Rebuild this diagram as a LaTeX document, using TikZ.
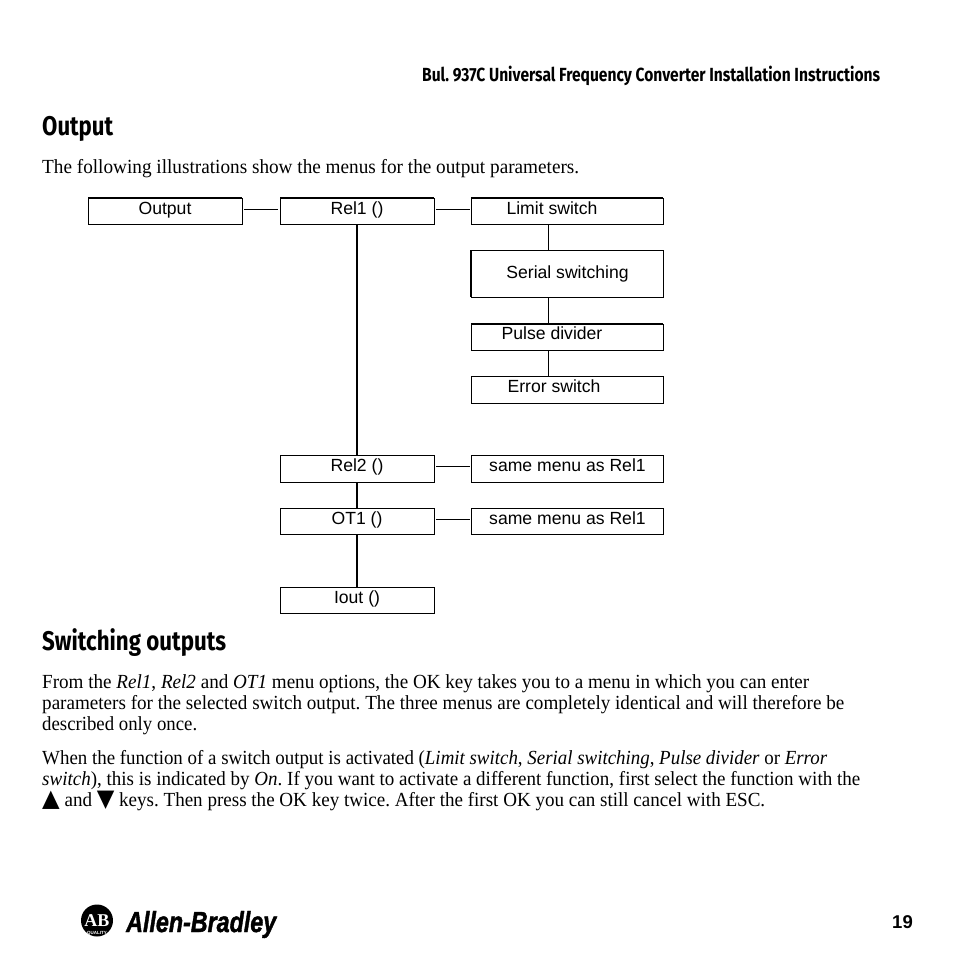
\documentclass[tikz,border=0pt]{standalone}
\usepackage{fontspec}
\usepackage{graphicx}
\setmainfont{Liberation Serif}
\newfontfamily\arialfont{Liberation Sans}
\newfontfamily\brandfont[FakeBold=1.6]{Liberation Sans Bold Italic}
\newfontfamily\headfont{Fira Sans}
\newfontfamily\symfont{DejaVu Sans}
\newcommand{\fitw}[2]{\resizebox{#1pt}{\height}{#2}}
\frenchspacing
\tikzset{
  menubox/.style={draw=black,line width=1pt,fill=none,minimum height=26pt,minimum width=154pt,inner sep=0pt,outer sep=0pt},
  widebox/.style={menubox,minimum width=192pt},
  thinlink/.style={draw=black,line width=1pt},
  thicklink/.style={draw=black,line width=2pt},
  edgeline/.style={draw=black,line width=1.6pt},
  boxtext/.style={anchor=base,inner sep=0pt,font=\arialfont\fontsize{17.6}{19}\selectfont},
  bodyline/.style={anchor=base west,inner sep=0pt,font=\fontsize{20}{21}\selectfont},
  headline/.style={anchor=base west,inner sep=0pt,font=\headfont\bfseries\fontsize{27}{30}\selectfont},
}
\begin{document}
\begin{tikzpicture}[x=1pt,y=-1pt]
\useasboundingbox (0,0) rectangle (954,954);
\fill[white] (0,0) rectangle (954,954);
% running head and headings
\node[anchor=base west,inner sep=0pt,font=\headfont\bfseries\fontsize{19}{20}\selectfont] (runhead) at (422,81) {\fitw{458}{Bul. 937C Universal Frequency Converter Installation Instructions}};
\node[headline] (h1) at (42,135) {\fitw{71}{Output}};
\node[headline] (h2) at (42,650) {\fitw{184}{Switching outputs}};
\node[bodyline] (intro) at (42,173) {\fitw{537}{The following illustrations show the menus for the output parameters.}};
% boxes
\node[menubox] (output) at (165,211) {};
\node[menubox] (rel1) at (357,211) {};
\node[widebox] (limit) at (567,211) {};
\node[widebox,minimum height=47pt] (serial) at (567,273.5) {};
\node[widebox] (pulse) at (567,337) {};
\node[widebox,minimum height=27pt] (error) at (567,390) {};
\node[menubox,minimum height=27pt] (rel2) at (357,469) {};
\node[widebox,minimum height=27pt] (same1) at (567,469) {};
\node[menubox] (ot1) at (357,521.5) {};
\node[widebox] (same2) at (567,521.5) {};
\node[menubox] (iout) at (357,600) {};
% box texts
\node[boxtext] (toutput) at (165,214) {Output};
\node[boxtext] (trel1) at (357,214) {Rel1 ()};
\node[boxtext] (tlimit) at (552,214) {Limit switch};
\node[boxtext] (tserial) at (567.5,278) {Serial switching};
\node[boxtext] (tpulse) at (552,339) {Pulse divider};
\node[boxtext] (terror) at (554,392) {Error switch};
\node[boxtext] (trel2) at (357,471) {Rel2 ()};
\node[boxtext] (tsame1) at (567.5,471) {same menu as Rel1};
\node[boxtext] (tot1) at (357,524) {OT1 ()};
\node[boxtext] (tsame2) at (567.5,524) {same menu as Rel1};
\node[boxtext] (tiout) at (357,603) {Iout ()};
% connectors
\coordinate (rx) at (548,0);
\draw[thinlink] ([xshift=2pt,yshift=2pt]output.east) -- ([xshift=-2pt,yshift=2pt]rel1.west);
\draw[thinlink] ([xshift=2pt,yshift=2pt]rel1.east) -- ([xshift=-1pt,yshift=2pt]limit.west);
\draw[thinlink] ([xshift=2pt,yshift=3pt]rel2.east) -- ([xshift=-1pt,yshift=3pt]same1.west);
\draw[thinlink] ([xshift=2pt,yshift=2.5pt]ot1.east) -- ([xshift=-1pt,yshift=2.5pt]same2.west);
\draw[thinlink] (limit.south -| rx) -- (serial.north -| rx);
\draw[thinlink] (serial.south -| rx) -- (pulse.north -| rx);
\draw[thinlink] (pulse.south -| rx) -- (error.north -| rx);
\draw[thicklink] (rel1) ++(0,13) -- (rel2.north);
\draw[thicklink] (rel2.south) -- (ot1.north);
\draw[thicklink] (ot1.south) -- (iout.north);
% heavier raster edges
\draw[edgeline] (rel2.south west) -- (rel2.south east);
\draw[edgeline] (same1.south west) -- (same1.south east);
\draw[edgeline] (error.south west) -- (error.south east);
\draw[edgeline] (pulse.north west) -- (pulse.north east);
\draw[edgeline] (limit.north west) -- (limit.north east);
\draw[edgeline] (rel1.north west) -- (rel1.north east);
\draw[edgeline] (output.north west) -- (output.north east);
\draw[edgeline] (serial.north west) -- (serial.south west);
% body
\node[bodyline] (l1) at (42,688) {\fitw{767}{From the \textit{Rel1}, \textit{Rel2} and \textit{OT1} menu options, the OK key takes you to a menu in which you can enter}};
\node[bodyline] (l2) at (42,709) {\fitw{802}{parameters for the selected switch output. The three menus are completely identical and will therefore be}};
\node[bodyline] (l3) at (42,730) {\fitw{155}{described only once.}};
\node[bodyline] (l4) at (42,764) {\fitw{785}{When the function of a switch output is activated (\textit{Limit switch}, \textit{Serial switching}, \textit{Pulse divider} or \textit{Error}}};
\node[bodyline] (l5) at (42,785) {\fitw{818}{\textit{switch}), this is indicated by \textit{On}. If you want to activate a different function, first select the function with the}};
\node[bodyline] (l6) at (42,806) {\fitw{723}{{\symfont\fontsize{24}{21}\selectfont ▲} and {\symfont\fontsize{24}{21}\selectfont ▼} keys. Then press the OK key twice. After the first OK you can still cancel with ESC.}};
% footer
\fill[black] (97,920.5) circle (16);
\node[anchor=base,inner sep=0pt,text=white,font=\bfseries\fontsize{18}{18}\selectfont] (ab) at (97,926) {AB};
\node[anchor=base,inner sep=0pt,text=white,font=\arialfont\bfseries\fontsize{4.5}{5}\selectfont] (qual) at (97,934) {QUALITY};
\node[anchor=base west,inner sep=0pt,font=\brandfont\fontsize{29}{30}\selectfont] (brand) at (126,932) {\fitw{150}{Allen-Bradley}};
\node[anchor=base,inner sep=0pt,font=\arialfont\bfseries\fontsize{18.5}{20}\selectfont] (page) at (902.5,928) {19};
\end{tikzpicture}
\end{document}
